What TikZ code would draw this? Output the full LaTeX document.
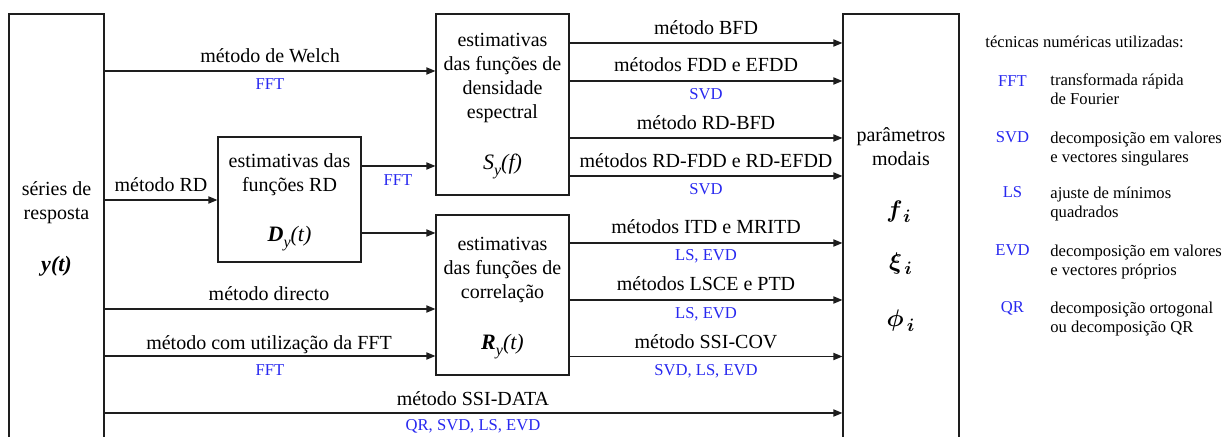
\documentclass[tikz,border=0pt]{standalone}
\usepackage{fontspec}
\setmainfont{Liberation Serif}
\usepackage{bm}
\usetikzlibrary{arrows.meta}
\definecolor{techblue}{RGB}{40,40,240}
\definecolor{linecol}{RGB}{30,30,30}
\tikzset{
  box/.style={draw=linecol, line width=0.6pt, inner sep=0pt},
  arr/.style={draw=linecol, line width=0.6pt, -{Triangle[length=4.5pt,width=3.6pt]}},
  lbl/.style={anchor=base, inner sep=0pt, font=\rmfamily\fontsize{10}{12}\selectfont},
  tech/.style={anchor=base, inner sep=0pt, text=techblue, font=\rmfamily\fontsize{8.3}{10}\selectfont},
  btxt/.style={anchor=base, inner sep=0pt, align=center, font=\rmfamily\fontsize{10}{12}\selectfont},
  frm/.style={anchor=base, inner sep=0pt, font=\rmfamily\fontsize{11}{12}\selectfont},
  leg/.style={anchor=base west, inner sep=0pt, align=left, font=\rmfamily\fontsize{8.3}{9.6}\selectfont},
}
\newcommand{\sub}[1]{\raisebox{-3pt}{\fontsize{8}{8}\selectfont\itshape #1}}
\begin{document}
\begin{tikzpicture}[x=0.5pt,y=-0.5pt]
\useasboundingbox (0,0) rectangle (1230,437);
\fill[white] (0,0) rectangle (1230,437);
\clip (0,0) rectangle (1230,437);

% boxes
\node[box, minimum width=47.5pt, minimum height=223pt] (src) at (56.5,237) {};
\node[box, minimum width=71.5pt, minimum height=62.5pt] (D) at (289.5,199.5) {};
\node[box, minimum width=66.5pt, minimum height=90.5pt] (S) at (502.5,104.5) {};
\node[box, minimum width=66.5pt, minimum height=80pt] (R) at (502.5,295) {};
\node[box, minimum width=58pt, minimum height=223pt] (dst) at (901,237) {};

% box texts (base = baseline of last line)
\node[btxt] (srctxt) at (56.5,220) {séries de\\resposta};
\node[frm] (srcf) at (56.5,272) {\bfseries\itshape y(t)};
\node[btxt] (Dtxt) at (289.5,192) {estimativas das\\funções RD};
\node[frm] (Df) at (289.5,242) {{\bfseries\itshape D}\sub{y}{\itshape (t)}};
\node[btxt] (Stxt) at (502.5,119) {estimativas\\das funções de\\densidade\\espectral};
\node[frm] (Sf) at (502.5,170) {{\itshape S}\sub{y}{\itshape (f)}};
\node[btxt] (Rtxt) at (502.5,299) {estimativas\\das funções de\\correlação};
\node[frm] (Rf) at (502.5,350) {{\bfseries\itshape R}\sub{y}{\itshape (t)}};
\node[btxt] (dsttxt) at (901,166) {parâmetros\\modais};
\node[frm] (ff) at (899,218) {\fontsize{13}{14}\selectfont$\bm{f}_{\,\bm{i}}$};
\node[frm] (xif) at (901,270) {\fontsize{13}{14}\selectfont$\bm{\xi}_{\,\bm{i}}$};
\node[frm] (phif) at (901,327) {\fontsize{13}{14}\selectfont$\bm{\phi}_{\,\bm{i}}$};

% level coordinates
\coordinate (hWelch) at (0,71);
\coordinate (hRD) at (0,200);
\coordinate (hDS) at (0,166);
\coordinate (hDR) at (0,233);
\coordinate (hDir) at (0,309);
\coordinate (hFFT) at (0,356);
\coordinate (hData) at (0,413);
\coordinate (hS1) at (0,43);
\coordinate (hS2) at (0,81);
\coordinate (hS3) at (0,138);
\coordinate (hS4) at (0,176);
\coordinate (hR1) at (0,243);
\coordinate (hR2) at (0,300);
\coordinate (hR3) at (0,356.5);

% connectors
\draw[arr] (src.east |- hWelch) -- (S.west |- hWelch);
\draw[arr] (src.east |- hRD) -- (D.west |- hRD);
\draw[arr] (D.east |- hDS) -- (S.west |- hDS);
\draw[arr] (D.east |- hDR) -- (R.west |- hDR);
\draw[arr] (src.east |- hDir) -- (R.west |- hDir);
\draw[arr] (src.east |- hFFT) -- (R.west |- hFFT);
\draw[arr] (src.east |- hData) -- (dst.west |- hData);
\draw[arr] (S.east |- hS1) -- (dst.west |- hS1);
\draw[arr] (S.east |- hS2) -- (dst.west |- hS2);
\draw[arr] (S.east |- hS3) -- (dst.west |- hS3);
\draw[arr] (S.east |- hS4) -- (dst.west |- hS4);
\draw[arr] (R.east |- hR1) -- (dst.west |- hR1);
\draw[arr] (R.east |- hR2) -- (dst.west |- hR2);
\draw[arr] (R.east |- hR3) -- (dst.west |- hR3);

% connector labels
\node[lbl] (lWelch) at (270,63) {método de Welch};
\node[tech] (tWelch) at (270,90) {FFT};
\node[lbl] (lRD) at (161,192) {método RD};
\node[tech] (tDS) at (398,186) {FFT};
\node[lbl] (lDir) at (269,301) {método directo};
\node[lbl] (lFFT) at (269,350) {método com utilização da FFT};
\node[tech] (tFFT) at (270,376) {FFT};
\node[lbl] (lData) at (473,406) {método SSI-DATA};
\node[tech] (tData) at (473,431) {QR, SVD, LS, EVD};
\node[lbl] (lS1) at (706,35) {método BFD};
\node[lbl] (lS2) at (706,72) {métodos FDD e EFDD};
\node[tech] (tS2) at (706,100) {SVD};
\node[lbl] (lS3) at (706,130) {método RD-BFD};
\node[lbl] (lS4) at (706,168) {métodos RD-FDD e RD-EFDD};
\node[tech] (tS4) at (706,195) {SVD};
\node[lbl] (lR1) at (706,234) {métodos ITD e MRITD};
\node[tech] (tR1) at (706,261) {LS, EVD};
\node[lbl] (lR2) at (706,291) {métodos LSCE e PTD};
\node[tech] (tR2) at (706,319) {LS, EVD};
\node[lbl] (lR3) at (706,349) {método SSI-COV};
\node[tech] (tR3) at (706,376) {SVD, LS, EVD};

% legend
\node[leg] (legtitle) at (985,48) {técnicas numéricas utilizadas:};
\node[tech] (kFFT) at (1012.5,87) {FFT};
\node[leg] (dFFT) at (1050,105) {transformada rápida\\de Fourier};
\node[tech] (kSVD) at (1012.5,143) {SVD};
\node[leg] (dSVD) at (1050,163) {decomposição em valores\\e vectores singulares};
\node[tech] (kLS) at (1012.5,198) {LS};
\node[leg] (dLS) at (1050,218) {ajuste de mínimos\\quadrados};
\node[tech] (kEVD) at (1012.5,256) {EVD};
\node[leg] (dEVD) at (1050,276) {decomposição em valores\\e vectores próprios};
\node[tech] (kQR) at (1012.5,313) {QR};
\node[leg] (dQR) at (1050,333) {decomposição ortogonal\\ou decomposição QR};
\end{tikzpicture}
\end{document}
